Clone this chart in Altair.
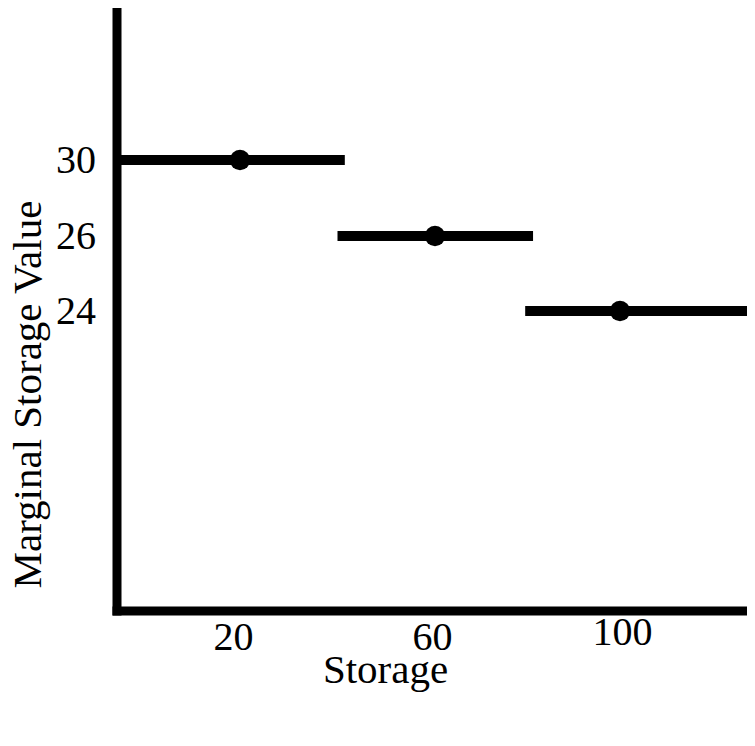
import altair as alt
import pandas as pd

# Data
storage = [20, 60, 100]          # dot positions
value = [30, 26, 24]             # marginal storage value
seg_start = [-5, 40, 79.5]       # segment start (storage)
seg_end = [41.5, 81.2, 127.5]    # segment end (storage)
x_ticks = [20, 60, 100]
y_ticks = [24, 26, 30]

df = pd.DataFrame({"storage": storage, "start": seg_start, "end": seg_end, "value": value})

FONT = "Liberation Serif"
W, H = 630.5, 602.5

x_scale = alt.Scale(domain=[-5, 20, 60, 100, 127.5], range=[0, 123.5, 318.5, 503.5, W],
                    nice=False, zero=False)
y_scale = alt.Scale(domain=[16, 24, 26, 30, 38], range=[H, 303, 228, 152, 0],
                    nice=False, zero=False)

x_axis = alt.Axis(
    values=x_ticks, title="Storage", ticks=False, grid=False,
    domainWidth=9, domainColor="black", domainCap="square",
    labelFont=FONT, labelFontSize=40, labelColor="black",
    labelFlush=False, labelOverlap=False,
    labelPadding={"condition": {"test": "datum.value === 100", "value": 2}, "value": 7},
    labelOffset={"condition": [{"test": "datum.value === 20", "value": -7},
                               {"test": "datum.value === 60", "value": -3}], "value": 2},
    titleFont=FONT, titleFontSize=41, titleFontWeight="normal", titleColor="black",
    titleX=268.5, titleY=71.5, titleAlign="center", titleBaseline="alphabetic",
)
y_axis = alt.Axis(
    values=y_ticks, title="Marginal Storage Value", ticks=False, grid=False,
    domainWidth=9, domainColor="black", domainCap="square",
    labelFont=FONT, labelFontSize=40, labelColor="black",
    labelFlush=False, labelOverlap=False, labelPadding=21,
    titleFont=FONT, titleFontSize=41, titleFontWeight="normal", titleColor="black",
    titleAngle=270, titleX=-76, titleY=580, titleAlign="left", titleBaseline="alphabetic",
)

segments = alt.Chart(df).mark_rule(strokeWidth=10, color="black").encode(
    x=alt.X("start:Q", scale=x_scale, axis=x_axis),
    x2="end:Q",
    y=alt.Y("value:Q", scale=y_scale, axis=y_axis),
)
dots = alt.Chart(df).mark_point(filled=True, size=415, color="black", opacity=1).encode(
    x=alt.X("storage:Q", scale=x_scale),
    y=alt.Y("value:Q", scale=y_scale),
)

chart = alt.layer(segments, dots).properties(
    width=W, height=H,
    autosize=alt.AutoSizeParams(type="none"),
    padding={"left": 108.5, "top": 0, "right": 0, "bottom": 100},
).configure_view(stroke=None)

chart.save("out.html", embed_options={"renderer": "svg", "actions": False})
